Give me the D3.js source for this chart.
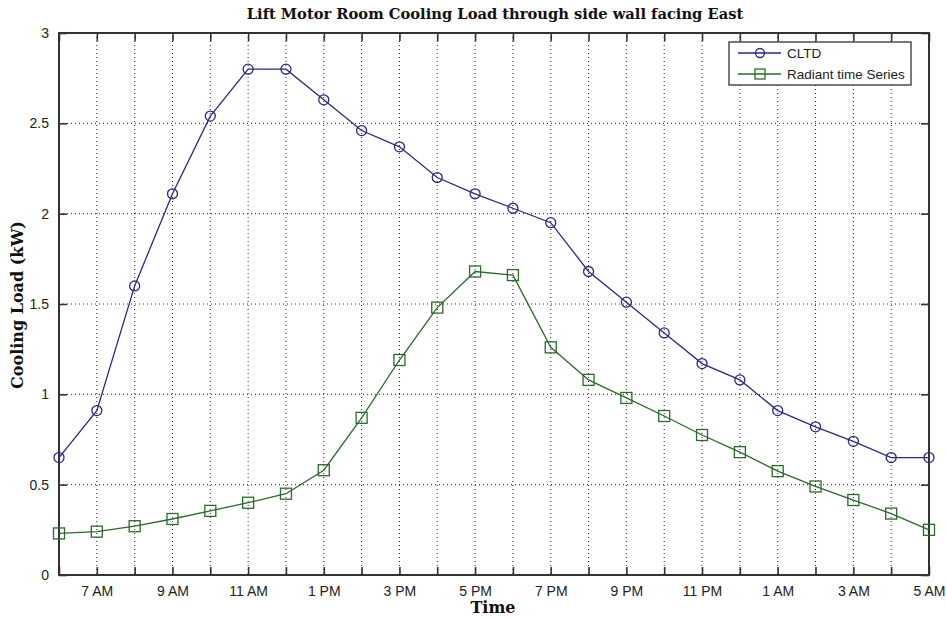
<!DOCTYPE html>
<html>
<head>
<meta charset="utf-8">
<script src="https://cdn.jsdelivr.net/npm/d3@7"></script>
<style>
  html, body { margin: 0; padding: 0; background: #fff; }
  svg { display: block; }
</style>
</head>
<body>
<svg id="chart" width="946" height="619"></svg>
<script>
// Hourly timeline, 6 AM through 5 AM the next morning
const hours = ["6 AM","7 AM","8 AM","9 AM","10 AM","11 AM","12 PM","1 PM","2 PM","3 PM","4 PM","5 PM",
  "6 PM","7 PM","8 PM","9 PM","10 PM","11 PM","12 AM","1 AM","2 AM","3 AM","4 AM","5 AM"];
// Cooling load (kW) by method
const cltd = [0.65,0.91,1.60,2.11,2.54,2.80,2.80,2.63,2.46,2.37,2.20,2.11,
  2.03,1.95,1.68,1.51,1.34,1.17,1.08,0.91,0.82,0.74,0.65,0.65];
const rts = [0.23,0.24,0.27,0.31,0.355,0.40,0.45,0.58,0.87,1.19,1.48,1.68,
  1.66,1.26,1.08,0.98,0.88,0.775,0.68,0.575,0.49,0.415,0.34,0.25];
const yTicks = [0,0.5,1,1.5,2,2.5,3];
const xLabelHours = ["7 AM","9 AM","11 AM","1 PM","3 PM","5 PM","7 PM","9 PM","11 PM","1 AM","3 AM","5 AM"];
const seriesNames = ["CLTD","Radiant time Series"];

const svg = d3.select("#chart");
const L = 59, R = 929, T = 33, B = 575;

const x = d3.scalePoint().domain(hours).range([L, R]);
const y = d3.scaleLinear().domain([0, 3]).range([B, T]);

const gridStyle = sel => sel.attr("stroke", "#222").attr("stroke-width", 1)
  .attr("stroke-dasharray", "1,3");

// dotted grid
svg.append("g").selectAll("line").data(hours.slice(1, -1)).join("line")
  .attr("x1", d => x(d)).attr("x2", d => x(d)).attr("y1", T).attr("y2", B)
  .call(gridStyle);
svg.append("g").selectAll("line").data(yTicks.slice(1, -1)).join("line")
  .attr("x1", L).attr("x2", R).attr("y1", d => y(d)).attr("y2", d => y(d))
  .call(gridStyle);

// axes (ticks pointing inward)
const fontSans = "'Liberation Sans', Arial, sans-serif";
const xb = d3.axisBottom(x).tickSize(-8).tickPadding(11)
  .tickFormat(d => xLabelHours.includes(d) ? d : "");
const xt = d3.axisTop(x).tickSize(-8).tickFormat("");
const yl = d3.axisLeft(y).tickValues(yTicks).tickSize(-8).tickPadding(10)
  .tickFormat(d3.format("~g"));
const yr = d3.axisRight(y).tickValues(yTicks).tickSize(-8).tickFormat("");

function styleAxis(g) {
  g.select(".domain").remove();
  g.attr("font-size", null);
  g.selectAll(".tick line").attr("stroke", "#333").attr("stroke-width", 1.6);
  g.selectAll(".tick text").attr("fill", "#222").attr("font-family", fontSans).attr("font-size", 14);
}
svg.append("g").attr("transform", `translate(0,${B})`).call(xb).call(styleAxis);
svg.append("g").attr("transform", `translate(0,${T})`).call(xt).call(styleAxis);
svg.append("g").attr("transform", `translate(${L},0)`).call(yl).call(styleAxis);
svg.append("g").attr("transform", `translate(${R},0)`).call(yr).call(styleAxis);

// plot frame
svg.append("rect").attr("x", L).attr("y", T).attr("width", R - L).attr("height", B - T)
  .attr("fill", "none").attr("stroke", "#333").attr("stroke-width", 2);

const line = d3.line().x((d, i) => x(hours[i])).y(d => y(d));
const blue = "#2a2a86", green = "#2a6a2a";

// CLTD series
svg.append("path").datum(cltd).attr("d", line).attr("fill", "none")
  .attr("stroke", blue).attr("stroke-width", 1.3);
svg.append("g").selectAll("circle").data(cltd).join("circle")
  .attr("cx", (d, i) => x(hours[i])).attr("cy", d => y(d)).attr("r", 5)
  .attr("fill", "none").attr("stroke", blue).attr("stroke-width", 1.3);

// Radiant time series
svg.append("path").datum(rts).attr("d", line).attr("fill", "none")
  .attr("stroke", green).attr("stroke-width", 1.3);
svg.append("g").selectAll("rect").data(rts).join("rect")
  .attr("x", (d, i) => x(hours[i]) - 5.5).attr("y", d => y(d) - 5.5)
  .attr("width", 11).attr("height", 11)
  .attr("fill", "none").attr("stroke", green).attr("stroke-width", 1.3);

// legend
const lg = svg.append("g").attr("transform", "translate(729,42)");
lg.append("rect").attr("width", 182).attr("height", 43).attr("fill", "#fff")
  .attr("stroke", "#333").attr("stroke-width", 1.3);
seriesNames.forEach((name, i) => {
  const ly = 11 + i * 21, col = i === 0 ? blue : green;
  lg.append("line").attr("x1", 9).attr("x2", 52).attr("y1", ly).attr("y2", ly)
    .attr("stroke", col).attr("stroke-width", 1.3);
  if (i === 0) {
    lg.append("circle").attr("cx", 31).attr("cy", ly).attr("r", 4.5)
      .attr("fill", "none").attr("stroke", col).attr("stroke-width", 1.3);
  } else {
    lg.append("rect").attr("x", 26).attr("y", ly - 5).attr("width", 10).attr("height", 10)
      .attr("fill", "none").attr("stroke", col).attr("stroke-width", 1.3);
  }
  lg.append("text").attr("x", 58).attr("y", ly + 5).text(name)
    .attr("fill", "#222").style("font-family", fontSans).style("font-size", "13.5px");
});

// titles
const fontSerif = "'DejaVu Serif', 'Liberation Serif', serif";
svg.append("text").attr("x", 495).attr("y", 19).attr("text-anchor", "middle")
  .style("font-family", fontSerif).style("font-weight", "bold").style("font-size", "14.7px")
  .attr("fill", "#111").text("Lift Motor Room Cooling Load through side wall facing East");
svg.append("text").attr("x", 493).attr("y", 613).attr("text-anchor", "middle")
  .style("font-family", fontSerif).style("font-weight", "bold").style("font-size", "16px")
  .attr("fill", "#111").text("Time");
svg.append("text").attr("transform", "translate(23,305) rotate(-90)").attr("text-anchor", "middle")
  .style("font-family", fontSerif).style("font-weight", "bold").style("font-size", "16px")
  .attr("fill", "#111").text("Cooling Load (kW)");
</script>
</body>
</html>
